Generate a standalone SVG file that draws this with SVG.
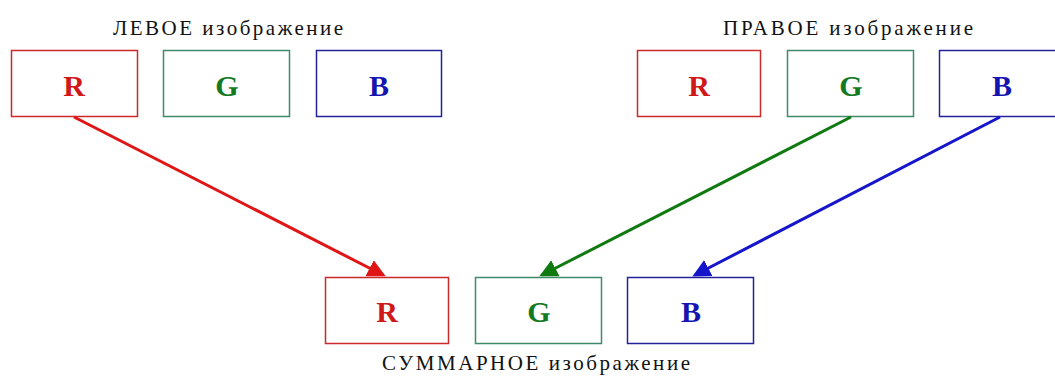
<svg xmlns="http://www.w3.org/2000/svg" width="1055" height="383" viewBox="0 0 1055 383">
<style>
.box{fill:#fff;stroke-width:1.5}
.r{stroke:#cc2a2a}.g{stroke:#3f8a6a}.b{stroke:#22229a}
.lt{font-family:"Liberation Serif",serif;font-weight:bold;font-size:30px;text-anchor:middle}
.ttl{font-family:"Liberation Serif",serif;font-size:21px;fill:#111}
</style>
<defs>
<marker id="ar" markerWidth="6" markerHeight="6" refX="5" refY="3" orient="auto" markerUnits="strokeWidth"><path d="M0,0 L6,3 L0,6 z" fill="#e01515"/></marker>
<marker id="ag" markerWidth="6" markerHeight="6" refX="5" refY="3" orient="auto" markerUnits="strokeWidth"><path d="M0,0 L6,3 L0,6 z" fill="#107a10"/></marker>
<marker id="ab" markerWidth="6" markerHeight="6" refX="5" refY="3" orient="auto" markerUnits="strokeWidth"><path d="M0,0 L6,3 L0,6 z" fill="#1515cc"/></marker>
</defs>
<rect width="1055" height="383" fill="#fff"/>
<text class="ttl" x="113" y="35" textLength="230" lengthAdjust="spacing">ЛЕВОЕ изображение</text>
<text class="ttl" x="723" y="35" textLength="250" lengthAdjust="spacing">ПРАВОЕ изображение</text>
<text class="ttl" x="382" y="370" textLength="308" lengthAdjust="spacing">СУММАРНОЕ изображение</text>
<g id="left-R"><rect class="box r" x="11.5" y="50.5" width="126" height="66"/><text class="lt" x="74" y="96" fill="#d01818">R</text></g>
<g id="left-G"><rect class="box g" x="163.5" y="50.5" width="126" height="66"/><text class="lt" x="227" y="96" fill="#137a22">G</text></g>
<g id="left-B"><rect class="box b" x="316.5" y="50.5" width="125" height="66"/><text class="lt" x="379" y="96" fill="#1414b0">B</text></g>
<g id="right-R"><rect class="box r" x="637.5" y="50.5" width="123" height="66"/><text class="lt" x="699" y="96" fill="#d01818">R</text></g>
<g id="right-G"><rect class="box g" x="787.5" y="50.5" width="126" height="66"/><text class="lt" x="851" y="96" fill="#137a22">G</text></g>
<g id="right-B"><rect class="box b" x="939.5" y="50.5" width="124" height="66"/><text class="lt" x="1002" y="96" fill="#1414b0">B</text></g>
<g id="sum-R"><rect class="box r" x="325.5" y="277.5" width="123" height="66"/><text class="lt" x="387" y="322" fill="#d01818">R</text></g>
<g id="sum-G"><rect class="box g" x="475.5" y="277.5" width="126" height="66"/><text class="lt" x="539" y="322" fill="#137a22">G</text></g>
<g id="sum-B"><rect class="box b" x="627.5" y="277.5" width="126" height="66"/><text class="lt" x="691" y="322" fill="#1414b0">B</text></g>
<g id="connectors" stroke-width="3" fill="none">
<line x1="74" y1="117" x2="383" y2="275" stroke="#e01515" marker-end="url(#ar)"/>
<line x1="851" y1="117" x2="542" y2="275" stroke="#107a10" marker-end="url(#ag)"/>
<line x1="1000" y1="117" x2="695" y2="275" stroke="#1515cc" marker-end="url(#ab)"/>
</g>
</svg>
